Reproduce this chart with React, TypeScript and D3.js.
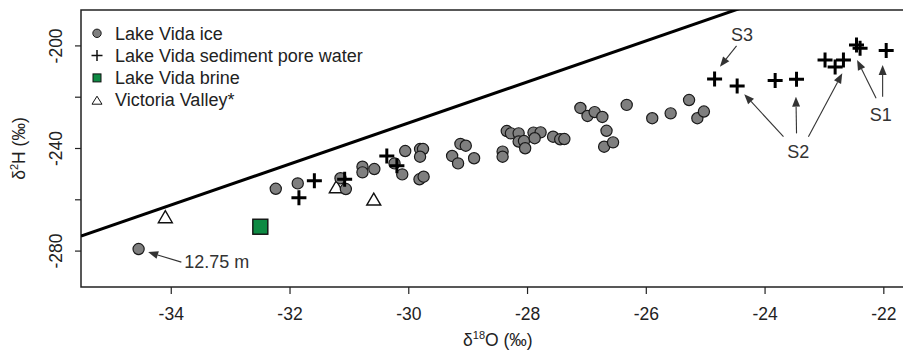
import React from "react";
import * as d3 from "d3";

// Lake Vida ice: [δ18O, δ2H]
const iceO = [-34.55, -32.24, -31.87, -31.15, -31.06, -30.78, -30.78, -30.58, -30.24, -30.11, -30.06, -29.81, -29.76, -29.81, -29.82, -29.75, -29.27, -29.17, -29.13, -29.04, -28.9, -28.42, -28.42, -28.35, -28.28, -28.15, -28.15, -28.06, -28.04, -27.9, -27.78, -27.88, -27.57, -27.45, -27.38, -27.11, -26.99, -26.87, -26.74, -26.67, -26.71, -26.56, -26.33, -25.9, -25.59, -25.28, -25.14, -25.03];
const iceH = [-279.2, -255.7, -253.6, -251.6, -255.8, -247.1, -249.3, -248.0, -245.8, -250.1, -241.0, -240.2, -240.2, -243.2, -252.0, -251.0, -242.9, -245.8, -238.2, -238.9, -243.8, -241.2, -243.2, -233.2, -234.1, -234.1, -237.3, -237.1, -239.9, -233.8, -233.7, -236.0, -235.4, -236.4, -236.3, -224.2, -227.3, -225.8, -227.7, -233.1, -239.3, -237.6, -223.0, -228.2, -226.3, -221.1, -228.2, -225.6];

// Lake Vida sediment pore water
const poreO = [-31.85, -31.59, -31.08, -30.37, -30.2, -24.85, -24.47, -23.83, -23.47, -22.99, -22.82, -22.68, -22.46, -22.4, -21.96];
const poreH = [-259.2, -252.6, -252.0, -242.9, -246.7, -212.9, -215.6, -213.5, -213.0, -205.5, -208.2, -205.5, -199.6, -200.9, -201.8];

// Lake Vida brine
const brineO = [-32.5];
const brineH = [-270.5];

// Victoria Valley
const vvO = [-34.1, -31.22, -30.59];
const vvH = [-266.6, -254.9, -259.7];

// Meteoric water line δ2H = 8·δ18O + 10
const mwlSlope = 8;
const mwlIntercept = 10;

const xTicks = [-34, -32, -30, -28, -26, -24, -22];
const yTicks = [-200, -220, -240, -260, -280];
const yLabelTicks = [-200, -240, -280];

const legendLabels = ["Lake Vida ice", "Lake Vida sediment pore water", "Lake Vida brine", "Victoria Valley*"];

// annotations: label, label position, arrows [fromO, fromH, toO, toH]
const annoLabels = ["12.75 m", "S3", "S2", "S1"];
const annoPos = [[-33.78, -286.6], [-24.39, -198.2], [-23.44, -243.6], [-22.05, -229.3]];
const annoAnchor = ["start", "middle", "middle", "middle"];
const annoArrows = [
  [[-33.83, -284.3, -34.39, -280.4]],
  [[-24.48, -200.0, -24.76, -208.1]],
  [[-23.69, -235.4, -24.35, -218.8], [-23.47, -234.1, -23.48, -219.8], [-23.27, -235.4, -22.7, -210.7]],
  [[-22.13, -220.4, -22.45, -205.5], [-22.02, -219.8, -22.02, -207.4]],
];

const W = 903;
const H = 352;
const FONT = "'Liberation Sans', Arial, sans-serif";

export default function App() {
  const left = 81, right = 914.7, top = 10, bottom = 287;
  const x = d3.scaleLinear().domain([-35.52, -21.48]).range([left, right]);
  const y = d3.scaleLinear().domain([-294, -186]).range([bottom, top]);

  const lineData: [number, number][] = [-35.52, -21.48].map((o) => [o, mwlSlope * o + mwlIntercept]);
  const lineGen = d3.line<[number, number]>().x((d) => x(d[0])).y((d) => y(d[1]));

  const plus = (cx: number, cy: number, s: number) => `M${cx - s},${cy}H${cx + s}M${cx},${cy - s}V${cy + s}`;
  const tri = (cx: number, cy: number, w: number, h: number) =>
    `M${cx},${cy - h / 2}L${cx + w / 2},${cy + h / 2}L${cx - w / 2},${cy + h / 2}Z`;

  const arrow = (a: number[], key: string) => {
    const x1 = x(a[0]), y1 = y(a[1]), x2 = x(a[2]), y2 = y(a[3]);
    const ang = Math.atan2(y2 - y1, x2 - x1);
    const len = 10, hw = 4;
    const bx = x2 - len * Math.cos(ang), by = y2 - len * Math.sin(ang);
    const px = -Math.sin(ang) * hw, py = Math.cos(ang) * hw;
    return (
      <g key={key}>
        <line x1={x1} y1={y1} x2={bx} y2={by} stroke="#333" strokeWidth={1.1} />
        <path d={`M${x2},${y2}L${bx + px},${by + py}L${bx - px},${by - py}Z`} fill="#333" />
      </g>
    );
  };

  const legendRowY = [33.3, 55.6, 77.9, 100.2];
  const lx = 97;

  return (
    <svg width={W} height={H} style={{ position: "absolute", left: 0, top: 0, background: "#fff" }} fontFamily={FONT}>
      <rect x={0} y={0} width={W} height={H} fill="#fff" />
      <defs>
        <clipPath id="plotclip">
          <rect x={left} y={top} width={right - left} height={bottom - top} />
        </clipPath>
      </defs>
      {/* frame */}
      <path d={`M${right},${top}H${left}V${bottom}H${right}`} fill="none" stroke="#222" strokeWidth={1.5} />
      {/* ticks */}
      {xTicks.map((t) => (
        <g key={"xt" + t}>
          <line x1={x(t)} x2={x(t)} y1={bottom} y2={bottom + 7} stroke="#222" strokeWidth={1.2} />
          <text x={x(t)} y={320} textAnchor="middle" fontSize={17.5} fill="#222">{t}</text>
        </g>
      ))}
      {yTicks.map((t) => (
        <line key={"yt" + t} x1={left - 6} x2={left} y1={y(t)} y2={y(t)} stroke="#222" strokeWidth={1.2} />
      ))}
      {yLabelTicks.map((t) => (
        <text key={"yl" + t} transform={`translate(62,${y(t)}) rotate(-90)`} textAnchor="middle" fontSize={17.5} fill="#222">{t}</text>
      ))}
      {/* axis titles */}
      <text x={(left + right) / 2} y={346} textAnchor="middle" fontSize={17.5} fill="#222">
        δ<tspan fontSize={11} dy={-7}>18</tspan><tspan dy={7}>O (‰)</tspan>
      </text>
      <text transform={`translate(25,${(top + bottom) / 2}) rotate(-90)`} textAnchor="middle" fontSize={17.5} fill="#222">
        δ<tspan fontSize={11} dy={-7}>2</tspan><tspan dy={7}>H (‰)</tspan>
      </text>

      <g clipPath="url(#plotclip)">
        <path d={lineGen(lineData) || ""} fill="none" stroke="#000" strokeWidth={3} />
        {vvO.map((o, i) => (
          <path key={"vv" + i} d={tri(x(o), y(vvH[i]), 14, 12)} fill="#fff" stroke="#111" strokeWidth={1.4} />
        ))}
        {brineO.map((o, i) => (
          <rect key={"br" + i} x={x(o) - 7.5} y={y(brineH[i]) - 7.5} width={15} height={15} fill="#0e8a43" stroke="#111" strokeWidth={1.4} />
        ))}
        {iceO.map((o, i) => (
          <circle key={"ice" + i} cx={x(o)} cy={y(iceH[i])} r={5.6} fill="#7f7f7f" stroke="#1a1a1a" strokeWidth={1.2} />
        ))}
        {poreO.map((o, i) => (
          <path key={"pw" + i} d={plus(x(o), y(poreH[i]), 7.5)} stroke="#000" strokeWidth={3} fill="none" />
        ))}
        {annoArrows.map((arr, i) => arr.map((a, j) => arrow(a, `ar${i}-${j}`)))}
        {annoLabels.map((l, i) => (
          <text key={"al" + i} x={x(annoPos[i][0])} y={y(annoPos[i][1])} textAnchor={annoAnchor[i] as any} fontSize={18} fill="#333">{l}</text>
        ))}
      </g>

      {/* legend */}
      <g>
        <circle cx={lx} cy={legendRowY[0]} r={4.2} fill="#7f7f7f" stroke="#1a1a1a" strokeWidth={1} />
        <path d={plus(lx, legendRowY[1], 5.5)} stroke="#111" strokeWidth={1.5} fill="none" />
        <rect x={lx - 4} y={legendRowY[2] - 4} width={8} height={8} fill="#0e8a43" stroke="#111" strokeWidth={1} />
        <path d={tri(lx, legendRowY[3], 10, 8)} fill="#fff" stroke="#111" strokeWidth={1} />
        {legendLabels.map((l, i) => (
          <text key={"lg" + i} x={115} y={legendRowY[i] + 6.2} fontSize={18} fill="#222">{l}</text>
        ))}
      </g>
    </svg>
  );
}
